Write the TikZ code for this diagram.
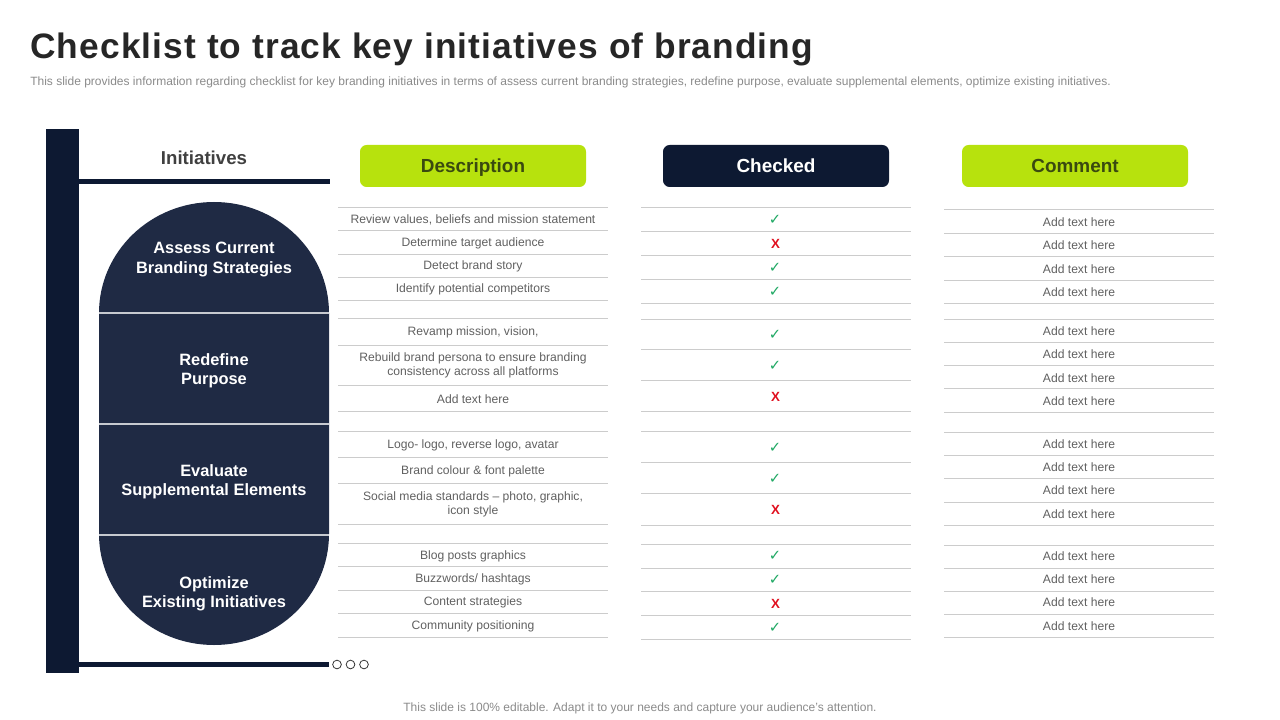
\documentclass[tikz,border=0pt]{standalone}
\usepackage{fontspec}
\setmainfont{Liberation Sans}
\newfontfamily\symfont{DejaVu Sans}
\definecolor{navy}{HTML}{0D1932}
\definecolor{capsule}{HTML}{1F2A44}
\definecolor{lime}{HTML}{B7E20D}
\definecolor{limetext}{HTML}{3A4A10}
\definecolor{rulegray}{HTML}{CCCCCC}
\definecolor{bodytext}{HTML}{606060}
\definecolor{subtext}{HTML}{8A8A8A}
\definecolor{okgreen}{HTML}{1FA863}
\definecolor{badred}{HTML}{E0101F}
\tikzset{
  rowline/.style={draw=rulegray,line width=0.65pt},
  cell/.style={inner sep=0pt,align=center,text=bodytext,font=\fontsize{9.1}{10.5}\selectfont},
  pill/.style={rounded corners=5pt,minimum width=169.5pt,minimum height=31.5pt,inner sep=0pt,text height=10.5pt,text depth=0pt,font=\fontsize{14.2}{17}\selectfont\bfseries},
  stage/.style={inner sep=0pt,align=center,text=white,font=\fontsize{12.3}{14.5}\selectfont\bfseries},
  tick/.style={inner sep=0pt,text=okgreen,font=\symfont\fontsize{11}{13}\selectfont},
  cross/.style={inner sep=0pt,text=badred,font=\fontsize{10}{12}\selectfont\bfseries},
  dot/.style={circle,draw=black!80,line width=0.6pt,minimum size=6.5pt,inner sep=0pt},
}
\begin{document}
\begin{tikzpicture}[x=0.75pt,y=-0.75pt]
\useasboundingbox (0,0) rectangle (1280,720);
\node[anchor=west,inner sep=0pt,text=black!85,font=\fontsize{26.5}{32}\selectfont\bfseries] (title) at (30,49) {\addfontfeature{LetterSpace=3.1}Checklist to track key initiatives of branding};
\node[anchor=west,inner sep=0pt,text=subtext,font=\fontsize{9}{10}\selectfont] (sub) at (30,82) {This slide provides information regarding checklist for key branding initiatives in terms of assess current branding strategies, redefine purpose, evaluate supplemental elements, optimize existing initiatives.};
\node[inner sep=0pt,text=subtext,font=\fontsize{9}{10}\selectfont] (foot) at (640,708) {This slide is 100\% editable. Adapt it to your needs and capture your audience's attention.};

% frame
\fill[navy] (46,129) rectangle (79,673);
\fill[navy] (79,179) rectangle (330,184);
\fill[navy] (79,662) rectangle (329,667);
\node[inner sep=0pt,text=black!75,font=\fontsize{14}{17}\selectfont\bfseries] (init) at (204,158) {Initiatives};
\node[dot] (d1) at (337,664.5) {};
\node[dot] (d2) at (350.5,664.5) {};
\node[dot] (d3) at (364,664.5) {};

% capsule
\fill[capsule] (99,313) arc[start angle=180,end angle=360,x radius=115,y radius=111] -- (329,534) arc[start angle=0,end angle=180,x radius=115,y radius=111] -- cycle;
\foreach \y in {313,424,535} \draw[white!75!capsule,line width=0.8pt] (99,\y) -- (329,\y);
\node[stage] (s1) at (214,259.5) {Assess Current\\Branding Strategies};
\node[stage] (s2) at (214,370.5) {Redefine\\Purpose};
\node[stage] (s3) at (214,481.5) {Evaluate\\Supplemental Elements};
\node[stage] (s4) at (214,593.5) {Optimize\\Existing Initiatives};

% headers
\node[pill,fill=lime,text=limetext] (h1) at (473,166) {Description};
\node[pill,fill=navy,text=white] (h2) at (776,166) {Checked};
\node[pill,fill=lime,text=limetext] (h3) at (1075,166) {Comment};

% rules
\foreach \y in {207,230,254,277,300,318,345,385,411,431,457,483,524,543,566,590,613,637}
  \draw[rowline] (338,\y) -- (608,\y);
\foreach \y in {207,231,255,279,303,319,349,380,411,431,462,493,525,544,568,591,615,639}
  \draw[rowline] (641,\y) -- (911,\y);
\foreach \y in {209,233,256,280,303,319,342,365,388,412,432,455,478,502,525,545,568,591,614,637}
  \draw[rowline] (944,\y) -- (1214,\y);

% description column
\node[cell] (a1) at (473,219.5) {Review values, beliefs and mission statement};
\node[cell] (a2) at (473,243.5) {Determine target audience};
\node[cell] (a3) at (473,266.5) {Detect brand story};
\node[cell] (a4) at (473,289.5) {Identify potential competitors};
\node[cell] (a5) at (473,332.5) {Revamp mission, vision,};
\node[cell] (a6) at (473,365) {Rebuild brand persona to ensure branding\\consistency across all platforms};
\node[cell] (a7) at (473,399.5) {Add text here};
\node[cell] (a8) at (473,445.5) {Logo- logo, reverse logo, avatar};
\node[cell] (a9) at (473,471.5) {Brand colour \& font palette};
\node[cell] (a10) at (473,504) {Social media standards – photo, graphic,\\icon style};
\node[cell] (a11) at (473,556.5) {Blog posts graphics};
\node[cell] (a12) at (473,579.5) {Buzzwords/ hashtags};
\node[cell] (a13) at (473,602.5) {Content strategies};
\node[cell] (a14) at (473,626.5) {Community positioning};

% checked column
\foreach \n/\y in {c1/220,c3/268,c4/292,c5/335,c6/366,c8/448,c9/479,c11/556,c12/580,c14/628}
  \node[tick] (\n) at (775,\y) {✓};
\foreach \n/\y in {c2/244,c7/397,c10/510,c13/604}
  \node[cross] (\n) at (775.5,\y) {X};

% comment column
\foreach \n/\y in {b1/222.5,b2/245.5,b3/269.5,b4/292.5,b5/331.5,b6/354.5,b7/378.5,b8/401.5,b9/444.5,b10/467.5,b11/490.5,b12/514.5,b13/556.5,b14/579.5,b15/602.5,b16/626.5}
  \node[cell] (\n) at (1079,\y) {Add text here};
\end{tikzpicture}
\end{document}
